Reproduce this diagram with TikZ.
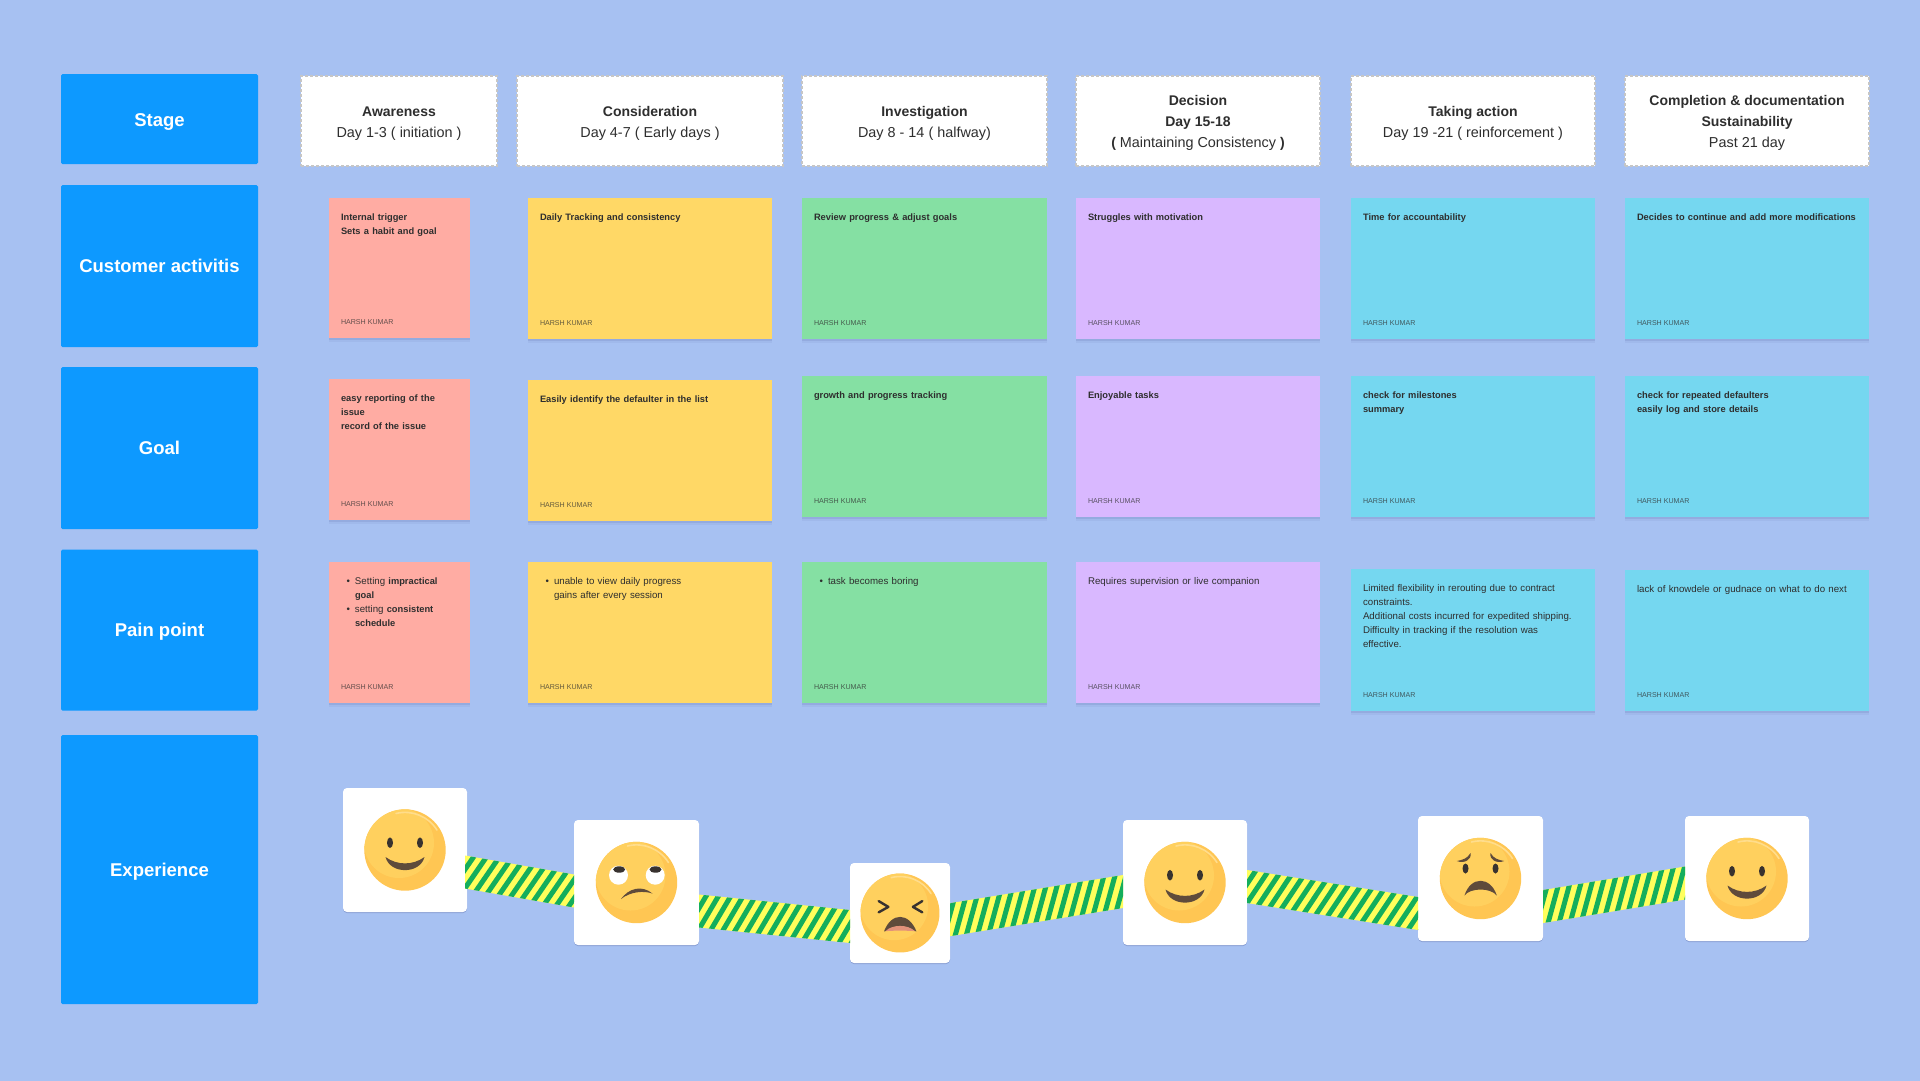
\documentclass[tikz,border=0pt]{standalone}
\usepackage{fontspec}
\setmainfont{Liberation Sans}
\usetikzlibrary{calc, shadows, decorations.markings}

\definecolor{boardblue}{HTML}{A7C1F2}
\definecolor{labelblue}{HTML}{0D99FF}
\definecolor{inkgrey}{HTML}{2E2E2E}
\definecolor{dashgrey}{HTML}{C6C6C6}
\definecolor{notepink}{HTML}{FFACA3}
\definecolor{noteyellow}{HTML}{FFD866}
\definecolor{notegreen}{HTML}{85E0A3}
\definecolor{notepurple}{HTML}{D9B8FF}
\definecolor{notecyan}{HTML}{75D7F0}
\definecolor{tapegreen}{HTML}{14AE5C}
\definecolor{tapeyellow}{HTML}{FFFF5C}
\definecolor{facedark}{HTML}{FFC653}
\definecolor{facelight}{HTML}{FFD05E}
\definecolor{facerim}{HTML}{FFDD8C}
\definecolor{mouthbrown}{HTML}{5F4B3B}
\definecolor{eyedark}{HTML}{38322F}
\definecolor{mouthpink}{HTML}{E2927A}

\tikzset{
    rowlabel/.style={fill=labelblue, text=white, rounded corners=1.5pt, minimum width=197pt, inner sep=0pt, outer sep=0pt, text height=13pt, text depth=0pt, font=\bfseries\fontsize{18.5}{22}\selectfont},
    stagebox/.style={fill=white, draw=dashgrey, line width=2pt, dash pattern=on 3pt off 2pt, minimum height=90pt, inner sep=0pt, outer sep=0pt},
    stagetext/.style={inner sep=0pt, outer sep=0pt, text=inkgrey, align=center, font=\fontsize{14.4}{21}\selectfont},
    note/.style={anchor=north west, inner sep=0pt, outer sep=0pt, drop shadow={shadow xshift=0pt, shadow yshift=-4pt, opacity=0.04, fill=black!70!blue}, drop shadow={shadow xshift=0pt, shadow yshift=-2pt, opacity=0.07, fill=black!70!blue}},
    notetext/.style={anchor=north west, inner sep=0pt, outer sep=0pt, text=inkgrey, align=left, font=\fontsize{9.7}{14}\selectfont},
    noteauthor/.style={anchor=base west, inner sep=0pt, outer sep=0pt, text=inkgrey, text opacity=0.75, font=\fontsize{7.1}{9}\selectfont},
    facecard/.style={fill=white, rounded corners=4pt, inner sep=0pt, outer sep=0pt, drop shadow={shadow xshift=0pt, shadow yshift=-1pt, opacity=0.18, fill=black!70!blue}},
    tapeline/.style={draw=tapeyellow, line width=44pt, postaction={decorate, decoration={markings, mark=between positions 0 and 1 step 11.7pt with {\draw[draw=tapegreen, line width=5pt] (-11pt,-24pt) -- (11pt,24pt);}}}},
}

% bold words of a note and of a header
\newcommand{\notebf}[1]{{\fontsize{9.3}{14}\selectfont\bfseries #1}}
\newcommand{\stagebf}[1]{{\fontsize{14}{21}\selectfont\bfseries #1}}

% one sticky note: name, left, top, width, height, colour, text
\newcommand{\sticky}[7]{%
    \node[note, fill=#6, minimum width=#4pt, minimum height=#5pt] (#1) at (#2,#3) {};
    \node[notetext, text width=#4pt] (#1text) at ($(#1.north west)+(12,14.5)$) {\rule{0pt}{8pt}#7};
    \node[noteauthor] (#1author) at ($(#1.south west)+(12,-13.5)$) {HARSH KUMAR};
}
\newcommand{\notebullet}{\hspace*{14pt}\llap{\textbullet\hspace{5pt}}}

% one stage header: name, centre, width, text
\newcommand{\stagehead}[4]{%
    \node[stagebox, minimum width=#3pt] (#1) at (#2,121) {};
    \node[stagetext] (#1text) at ($(#1.center)+(0,2.2)$) {#4};
}

% striped tape between two coordinates
\newcommand{\tape}[2]{%
    \begin{scope}
        \clip ($(#1)+(0,-16.5)$) -- ($(#2)+(0,-16.5)$) -- ($(#2)+(0,16.5)$) -- ($(#1)+(0,16.5)$) -- cycle;
        \draw[tapeline] ($(#1)!-25pt!(#2)$) -- ($(#2)!-25pt!(#1)$);
    \end{scope}
}

% the yellow disc of a face, around (0,0)
\newcommand{\facebase}{%
    \fill[facedark] (0,0) circle (40.7pt);
    \begin{scope}
        \clip (0,0) circle (40.7pt);
        \fill[facelight] (-6,-7) circle (35pt);
    \end{scope}
    \draw[facerim, line width=1.6pt, line cap=round] (-9,-36.5) arc[start angle=104, end angle=32, radius=37.6pt];
}
\newcommand{\smileface}{%
    \facebase
    \fill[eyedark] (-15,-7.3) ellipse (3pt and 5.3pt);
    \fill[eyedark] (15,-7.3) ellipse (3pt and 5.3pt);
    \fill[mouthbrown] (-19.5,7) .. controls (-8,15.5) and (8,15.5) .. (19.5,7) .. controls (15,24.5) and (-15,24.5) .. cycle;
}

\begin{document}
\begin{tikzpicture}[x=1pt, y=-1pt]
    \useasboundingbox (0,0) rectangle (1920,1080);
    \fill[boardblue] (-2,-2) rectangle (1922,1082);

    % Draw the row labels
    \node[rowlabel, minimum height=90pt] (stage) at (159.5,119) {};
    \node[rowlabel, minimum height=162pt] (activities) at (159.5,266) {Customer activitis};
    \node[rowlabel, minimum height=162pt] (goal) at (159.5,448) {Goal};
    \node[rowlabel, minimum height=161pt] (pain) at (159.5,630) {Pain point};
    \node[rowlabel, minimum height=269pt] (experience) at (159.5,869.5) {Experience};
    \node[text=white, inner sep=0pt, text height=13pt, text depth=0pt, font=\bfseries\fontsize{18.5}{22}\selectfont] (stagetitle) at ($(stage.center)+(0,1)$) {Stage};

    % Draw the stage headers
    \stagehead{awareness}{399}{196}{\stagebf{Awareness}\\Day 1-3 ( initiation )}
    \stagehead{consideration}{650}{266}{\stagebf{Consideration}\\Day 4-7 ( Early days )}
    \stagehead{investigation}{924.5}{245}{\stagebf{Investigation}\\Day 8 - 14 ( halfway)}
    \stagehead{decision}{1198}{244}{\stagebf{Decision}\\\stagebf{Day 15-18}\\\stagebf{(} Maintaining Consistency \stagebf{)}}
    \stagehead{action}{1473}{244}{\stagebf{Taking action}\\Day 19 -21 ( reinforcement )}
    \stagehead{completion}{1747}{244}{\stagebf{Completion \& documentation}\\\stagebf{Sustainability}\\Past 21 day}

    % Customer activity notes
    \sticky{activitya}{329}{198}{141}{140}{notepink}{\notebf{Internal trigger}\\\notebf{Sets a habit and goal}}
    \sticky{activityb}{528}{198}{244}{141}{noteyellow}{\notebf{Daily Tracking and consistency}}
    \sticky{activityc}{802}{198}{245}{141}{notegreen}{\notebf{Review progress \& adjust goals}}
    \sticky{activityd}{1076}{198}{244}{141}{notepurple}{\notebf{Struggles with motivation}}
    \sticky{activitye}{1351}{198}{244}{141}{notecyan}{\notebf{Time for accountability}}
    \sticky{activityf}{1625}{198}{244}{141}{notecyan}{\notebf{Decides to continue and add more modifications}}

    % Goal notes
    \sticky{goala}{329}{379}{141}{141}{notepink}{\notebf{easy reporting of the}\\\notebf{issue}\\\notebf{record of the issue}}
    \sticky{goalb}{528}{380}{244}{141}{noteyellow}{\notebf{Easily identify the defaulter in the list}}
    \sticky{goalc}{802}{376}{245}{141}{notegreen}{\notebf{growth and progress tracking}}
    \sticky{goald}{1076}{376}{244}{141}{notepurple}{\notebf{Enjoyable tasks}}
    \sticky{goale}{1351}{376}{244}{141}{notecyan}{\notebf{check for milestones}\\\notebf{summary}}
    \sticky{goalf}{1625}{376}{244}{141}{notecyan}{\notebf{check for repeated defaulters}\\\notebf{easily log and store details}}

    % Pain point notes
    \sticky{paina}{329}{562}{141}{141}{notepink}{\notebullet Setting \notebf{impractical}\\\hspace*{14pt}\notebf{goal}\\\notebullet setting \notebf{consistent}\\\hspace*{14pt}\notebf{schedule}}
    \sticky{painb}{528}{562}{244}{141}{noteyellow}{\notebullet unable to view daily progress\\\hspace*{14pt}gains after every session}
    \sticky{painc}{802}{562}{245}{141}{notegreen}{\notebullet task becomes boring}
    \sticky{paind}{1076}{562}{244}{141}{notepurple}{Requires supervision or live companion}
    \sticky{paine}{1351}{569}{244}{142}{notecyan}{Limited flexibility in rerouting due to contract\\constraints.\\Additional costs incurred for expedited shipping.\\Difficulty in tracking if the resolution was\\effective.}
    \sticky{painf}{1625}{570}{244}{141}{notecyan}{lack of knowdele or gudnace on what to do next}

    % Cards of the faces
    \node[facecard, minimum width=124pt, minimum height=124pt] (faceone) at (405,850) {};
    \node[facecard, minimum width=125pt, minimum height=125pt] (facetwo) at (636.5,882.5) {};
    \node[facecard, minimum width=100pt, minimum height=100pt] (facethree) at (900,913) {};
    \node[facecard, minimum width=124pt, minimum height=125pt] (facefour) at (1185,882.5) {};
    \node[facecard, minimum width=125pt, minimum height=125pt] (facefive) at (1480.5,878.5) {};
    \node[facecard, minimum width=124pt, minimum height=125pt] (facesix) at (1747,878.5) {};

    % Ends of the tapes
    \coordinate (tapeonea) at ($(faceone.east)+(-2,22)$);
    \coordinate (tapeoneb) at ($(facetwo.west)+(0,8.5)$);
    \coordinate (tapetwoa) at ($(facetwo.east)+(0,28.5)$);
    \coordinate (tapetwob) at ($(facethree.west)+(0,13.5)$);
    \coordinate (tapethreea) at ($(facethree.east)+(0,6.7)$);
    \coordinate (tapethreeb) at ($(facefour.west)+(0,9)$);
    \coordinate (tapefoura) at ($(facefour.east)+(0,4)$);
    \coordinate (tapefourb) at ($(facefive.west)+(0,35)$);
    \coordinate (tapefivea) at ($(facefive.east)+(0,28)$);
    \coordinate (tapefiveb) at ($(facesix.west)+(0,4.5)$);

    % Draw the tapes
    \tape{tapeonea}{tapeoneb}
    \tape{tapetwoa}{tapetwob}
    \tape{tapethreea}{tapethreeb}
    \tape{tapefoura}{tapefourb}
    \tape{tapefivea}{tapefiveb}

    % Draw the faces
    \begin{scope}[shift={(faceone.center)}]
        \smileface
    \end{scope}
    \begin{scope}[shift={(facefour.center)}]
        \smileface
    \end{scope}
    \begin{scope}[shift={(facesix.center)}]
        \smileface
    \end{scope}

    % Face looking up
    \begin{scope}[shift={(facetwo.center)}]
        \facebase
        \fill[white] (-18,-7.3) circle (9.5pt);
        \fill[white] (18.7,-7.3) circle (9.5pt);
        \fill[eyedark] (-17.3,-13) ellipse (6pt and 3.2pt);
        \fill[eyedark] (19,-13) ellipse (6pt and 3.2pt);
        \fill[mouthbrown] (-15.5,16.5) .. controls (-8,6) and (5,2) .. (16,11) .. controls (7,8) and (-6,9) .. cycle;
    \end{scope}

    % Tired face
    \begin{scope}[shift={(facethree.center)}, scale=0.97]
        \facebase
        \draw[eyedark, line width=2.4pt, line cap=round, line join=round] (-22,-12.3) -- (-12,-6.3) -- (-22,-0.7);
        \draw[eyedark, line width=2.4pt, line cap=round, line join=round] (23,-12.3) -- (13.3,-6.3) -- (23,-0.7);
        \fill[mouthbrown] (-16.5,19) .. controls (-9,-1) and (9,-1) .. (17,19) .. controls (6,16) and (-6,16) .. cycle;
        \fill[mouthpink] (-15,18.7) .. controls (-8,11.5) and (8,11.5) .. (15.5,18.7) .. controls (6,18) and (-6,18) .. cycle;
    \end{scope}

    % Worried face
    \begin{scope}[shift={(facefive.center)}]
        \facebase
        \fill[eyedark] (-15,-10) ellipse (3pt and 5pt);
        \fill[eyedark] (15,-10) ellipse (3pt and 5pt);
        \fill[mouthbrown] (-23.7,-17.5) .. controls (-18,-18.5) and (-13,-20) .. (-10,-25.5) .. controls (-8.5,-19) and (-16,-14.5) .. cycle;
        \fill[mouthbrown] (23.7,-17.5) .. controls (18,-18.5) and (13,-20) .. (10,-25.5) .. controls (8.5,-19) and (16,-14.5) .. cycle;
        \fill[mouthbrown] (-16,17) .. controls (-10,-2.6) and (10,-2.6) .. (16.3,17) .. controls (10,9) and (-10,9) .. cycle;
    \end{scope}
\end{tikzpicture}
\end{document}
